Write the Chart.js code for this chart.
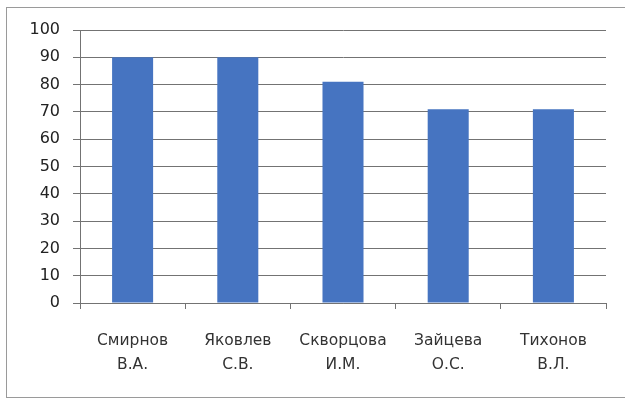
<!DOCTYPE html>
<html lang="ru">
<head>
    <meta charset="UTF-8">
    <style>
        html, body { margin: 0; padding: 0; background: #fff; }
        #wrap { width: 625px; height: 399px; position: relative; }
    </style>
    <script src="https://cdn.jsdelivr.net/npm/chart.js@4.4.1/dist/chart.umd.min.js"></script>
</head>
<body>
<div id="wrap"><canvas id="myChart"></canvas></div>
<script>
    var names = [
        ['Смирнов', 'В.А.'],
        ['Яковлев', 'С.В.'],
        ['Скворцова', 'И.М.'],
        ['Зайцева', 'О.С.'],
        ['Тихонов', 'В.Л.']
    ];
    var scores = [90, 90, 81, 71, 71];

    // рамка вокруг диаграммы
    var frame = {
        id: 'frame',
        beforeDraw: function(chart) {
            var ctx = chart.ctx;
            ctx.save();
            ctx.strokeStyle = '#9a9a9a';
            ctx.lineWidth = 1;
            ctx.strokeRect(6.5, 7.5, 640, 390);
            ctx.restore();
        }
    };

    new Chart(document.getElementById('myChart'), {
        type: 'bar',
        data: {
            labels: names,
            datasets: [{
                data: scores,
                backgroundColor: '#4674C1',
                categoryPercentage: 1,
                barPercentage: 0.39
            }]
        },
        options: {
            responsive: true,
            maintainAspectRatio: false,
            animation: false,
            layout: { padding: { top: 30, right: 19, bottom: 0, left: 0 } },
            plugins: { legend: { display: false }, tooltip: { enabled: false } },
            scales: {
                x: {
                    afterFit: function(s) { s.height = 96; },
                    grid: { offset: true, drawOnChartArea: false, drawTicks: true, tickLength: 6, color: '#737373' },
                    border: { color: '#737373' },
                    ticks: {
                        padding: 20,
                        color: '#333333',
                        font: { family: 'DejaVu Sans', size: 15.5, lineHeight: 1.55 },
                        maxRotation: 0
                    }
                },
                y: {
                    min: 0,
                    max: 100,
                    afterFit: function(s) { s.width = 80; },
                    grid: { color: '#737373', tickLength: 7 },
                    border: { color: '#737373' },
                    ticks: {
                        stepSize: 10,
                        padding: 13,
                        color: '#222222',
                        font: { family: 'DejaVu Sans', size: 16 }
                    }
                }
            }
        },
        plugins: [frame]
    });
</script>
</body>
</html>
